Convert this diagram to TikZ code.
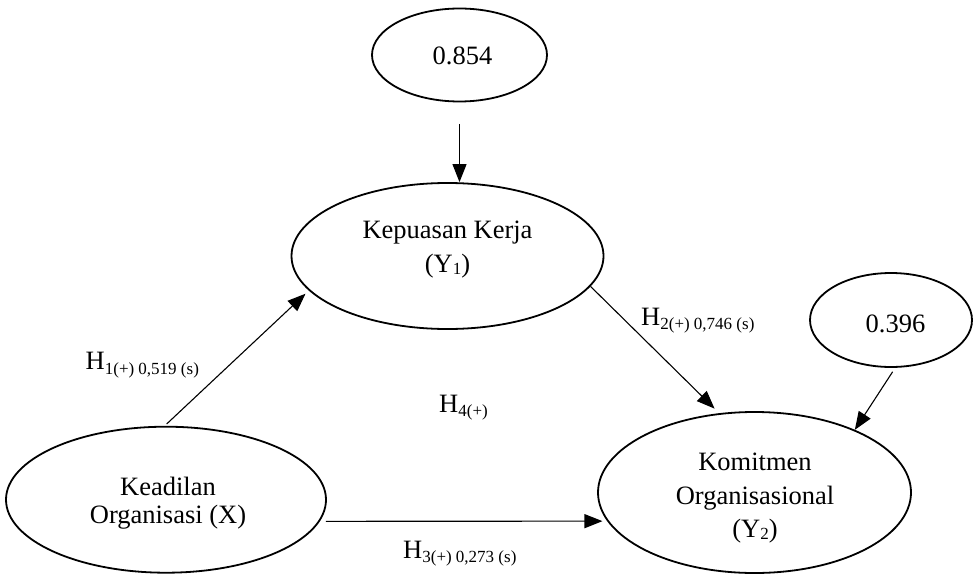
\documentclass[tikz,border=0pt]{standalone}
\usepackage{fontspec}
\setmainfont{Liberation Serif}
\usetikzlibrary{arrows.meta,shapes.geometric}
\newcommand\sbs[1]{\raisebox{-4.5pt}{\fontsize{17}{20}\selectfont #1}}
\newcommand\ysb[1]{\raisebox{-2.5pt}{\fontsize{17}{20}\selectfont #1}}
\begin{document}
\begin{tikzpicture}[x=1pt,y=-1pt,
  ell/.style={draw, ellipse, line width=1.8pt, inner sep=0pt},
  txt/.style={align=center, inner sep=0pt, font=\fontsize{26.5}{34}\selectfont},
  arr/.style={-{Triangle[length=18pt,width=14pt]}, line width=1.1pt},
  lab/.style={anchor=base west, inner sep=0pt, font=\fontsize{26.5}{30}\selectfont}]
\useasboundingbox (0,0) rectangle (973,575);
% ellipses
\node[ell, minimum width=175pt, minimum height=93pt] (n854) at (459.5,55) {};
\node[ell, minimum width=312pt, minimum height=146pt] (kep) at (447.5,256) {};
\node[ell, minimum width=320pt, minimum height=146pt] (kead) at (166,499.7) {};
\node[ell, minimum width=313pt, minimum height=161pt] (kom) at (754.5,492.5) {};
\node[ell, minimum width=162pt, minimum height=94pt] (n396) at (891,320) {};
% texts
\node[txt] (t854) at (462.5,56) {0.854};
\node[txt] (t396) at (895.5,323.5) {0.396};
\node[txt] (tkep) at (447.5,249.3) {Kepuasan Kerja\\(Y\ysb{1})};
\node[txt, font=\fontsize{26.5}{33.2}\selectfont] (tkom) at (755,498.2) {Komitmen\\Organisasional\\(Y\ysb{2})};
\node[txt, font=\fontsize{26.5}{28.3}\selectfont] (tkead) at (168,503) {Keadilan\\Organisasi (X)};
% arrows
\draw[arr, shorten <=21.5pt] (n854.south) -- (n854.south |- kep.north);
\draw[arr, shorten <=2.7pt, shorten >=4.6pt] (kead.91.5) -- (kep.194.6);
\draw[arr, shorten >=6.5pt] (kep.348.2) -- (kom.114);
\draw[arr, shorten <=6pt, shorten >=4.7pt] (kead.-8.2) -- (kom.191.3);
\draw[arr, shorten <=4.7pt] (n396.-85.6) -- (kom.32.7);
% labels
\node[lab] (h1) at (85.5,369.5) {H\sbs{1(+) 0,519 (s)}};
\node[lab] (h2) at (641,325) {H\sbs{2(+) 0,746 (s)}};
\node[lab] (h3) at (403,558.3) {H\sbs{3(+) 0,273 (s)}};
\node[lab] (h4) at (439,412.3) {H\sbs{4(+)}};
\end{tikzpicture}
\end{document}
